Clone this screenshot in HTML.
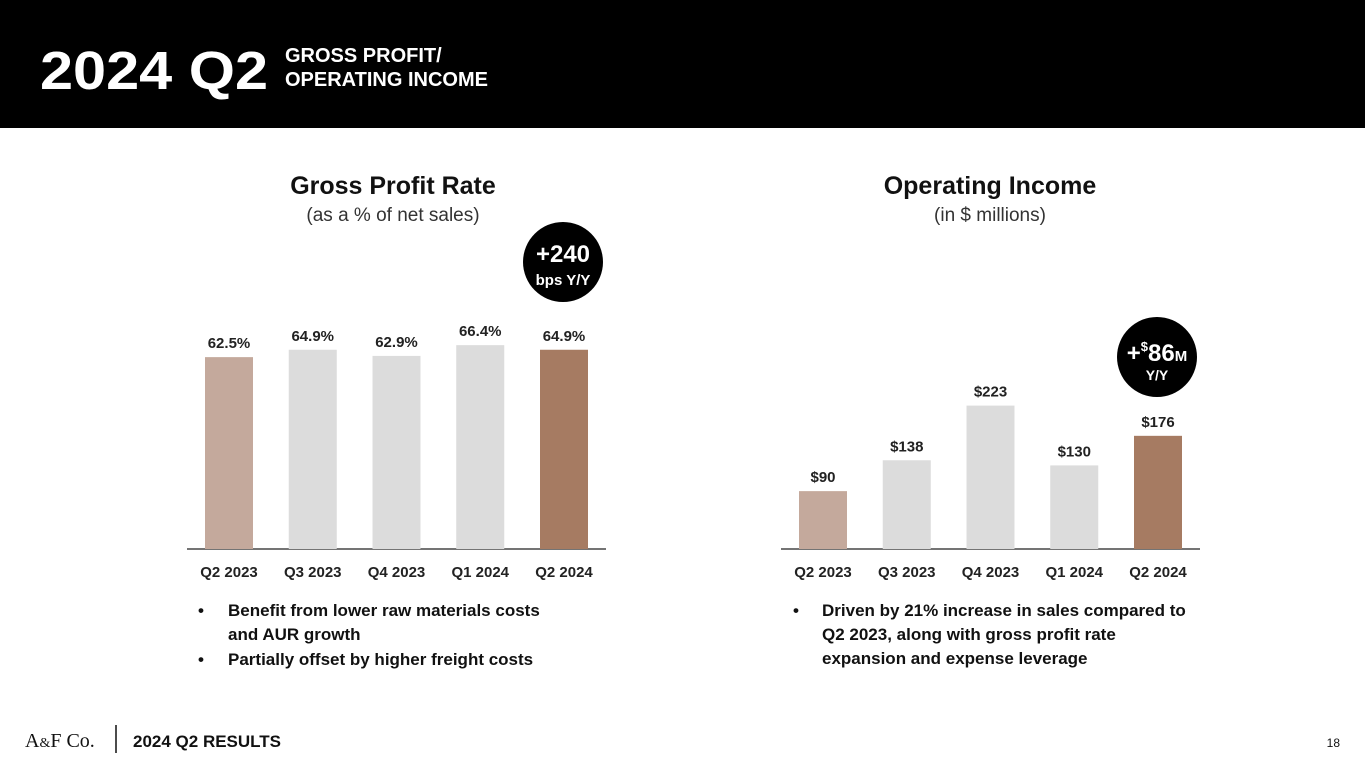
<!DOCTYPE html>
<html><head><meta charset="utf-8"><style>
body{margin:0;width:1365px;height:768px;overflow:hidden;background:#fff;font-family:"Liberation Sans",sans-serif}
svg{display:block}
</style></head><body>
<svg width="1365" height="768" id="s">
<rect x="0" y="0" width="1365" height="128" fill="#000"/>
<text x="40" y="89" fill="#fff" font-size="54" font-weight="bold" textLength="228" lengthAdjust="spacingAndGlyphs">2024 Q2</text>
<text x="285" y="62" fill="#fff" font-size="20" font-weight="bold"><tspan x="285">GROSS PROFIT/</tspan><tspan x="285" dy="24">OPERATING INCOME</tspan></text>
<text x="393" y="194" text-anchor="middle" font-size="25" font-weight="bold" fill="#111">Gross Profit Rate</text>
<text x="393" y="221" text-anchor="middle" font-size="19" fill="#333">(as a % of net sales)</text>
<text x="990" y="194" text-anchor="middle" font-size="25" font-weight="bold" fill="#111">Operating Income</text>
<text x="990" y="221" text-anchor="middle" font-size="19" fill="#333">(in $ millions)</text>
<g><circle cx="563" cy="262" r="40" fill="#000"/>
<text x="563" y="262" text-anchor="middle" fill="#fff" font-size="24" font-weight="bold">+240</text>
<text x="563" y="285" text-anchor="middle" fill="#fff" font-size="15" font-weight="bold">bps Y/Y</text></g>
<g><circle cx="1157" cy="357" r="40" fill="#000"/>
<text x="1157" y="361" text-anchor="middle" fill="#fff" font-size="24" font-weight="bold">+<tspan font-size="13" dy="-10">$</tspan><tspan dy="10">86</tspan><tspan font-size="15">M</tspan></text>
<text x="1157" y="380" text-anchor="middle" fill="#fff" font-size="14" font-weight="bold">Y/Y</text></g>
<g id="gp"></g>
<g id="oi"></g>
<g font-size="17" font-weight="bold" fill="#111">
<text x="198" y="616">•</text><text x="228" y="616">Benefit from lower raw materials costs</text>
<text x="228" y="640">and AUR growth</text>
<text x="198" y="665">•</text><text x="228" y="665">Partially offset by higher freight costs</text></g>
<g font-size="17" font-weight="bold" fill="#111">
<text x="793" y="616">•</text><text x="822" y="616">Driven by 21% increase in sales compared to</text>
<text x="822" y="640">Q2 2023, along with gross profit rate</text>
<text x="822" y="664">expansion and expense leverage</text></g>
<text x="25" y="747" font-family="Liberation Serif,serif" font-size="20" fill="#111">A<tspan font-size="14">&amp;</tspan>F Co.</text>
<line x1="116" y1="725" x2="116" y2="753" stroke="#111" stroke-width="1.5"/>
<text x="133" y="747" font-size="17" font-weight="bold" fill="#111">2024 Q2 RESULTS</text>
<text x="1340" y="747" font-size="12" fill="#111" text-anchor="end">18</text>
</svg>
<script>
const categories=["Q2 2023","Q3 2023","Q4 2023","Q1 2024","Q2 2024"];
const gpValues=[62.5,64.9,62.9,66.4,64.9];
const gpLabels=["62.5%","64.9%","62.9%","66.4%","64.9%"];
const oiValues=[90,138,223,130,176];
const oiLabels=["$90","$138","$223","$130","$176"];
const colors=["#c4a99c","#dcdcdc","#dcdcdc","#dcdcdc","#a67b62"];
const NS="http://www.w3.org/2000/svg";
function mk(t,a,p){const e=document.createElementNS(NS,t);for(const k in a)e.setAttribute(k,a[k]);p.appendChild(e);return e;}
function draw(g,vals,labels,x0,step,x1,x2,scale){
  const base=549;
  const ax=mk("line",{x1:x1,x2:x2,y1:base,y2:base,stroke:"#222","stroke-width":1.2},g);
  
  
  vals.forEach((v,i)=>{
    const cx=x0+i*step,h=v*scale;
    const r=mk("rect",{x:cx-24,y:base-h,width:48,height:h,fill:colors[i]},g);
    
    
    const t=mk("text",{x:cx,y:base-h-9,"text-anchor":"middle","font-size":15,"font-weight":"bold",fill:"#222"},g);
    t.textContent=labels[i];
    
    
    const c=mk("text",{x:cx,y:577,"text-anchor":"middle","font-size":15,"font-weight":"bold",fill:"#222"},g);
    c.textContent=categories[i];
    
    
  });
}
draw(document.getElementById("gp"),gpValues,gpLabels,229,83.75,187,606,3.07);
draw(document.getElementById("oi"),oiValues,oiLabels,823,83.75,781,1200,0.643);
</script>
</body></html>
